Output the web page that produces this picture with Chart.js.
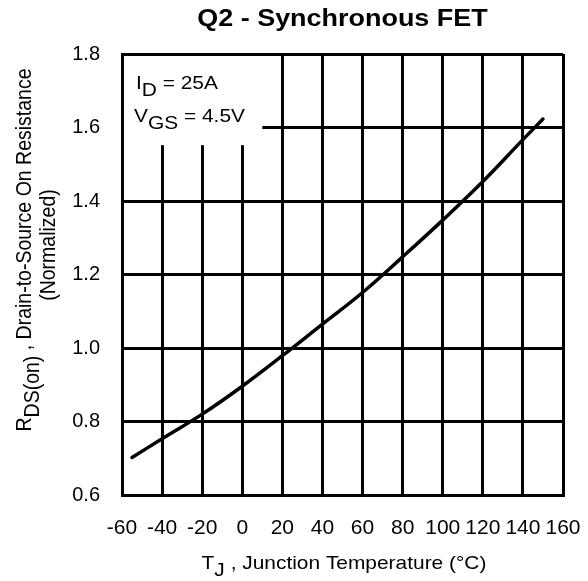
<!DOCTYPE html>
<html>
<head>
<meta charset="utf-8">
<script src="https://cdn.jsdelivr.net/npm/chart.js@4.4.1/dist/chart.umd.min.js"></script>
<style>
  body { margin: 0; background: #fff; }
  #wrap { width: 588px; height: 581px; }
</style>
</head>
<body>
<div id="wrap"><canvas id="rdsChart"></canvas></div>
<script>
// junction temperature (°C) vs normalized Rds(on)
const tempC = [-55, -40, -20, 0, 20, 40, 60, 80, 100, 120, 140, 150];
const rdsNorm = [0.702, 0.753, 0.820, 0.896, 0.979, 1.065, 1.151, 1.248, 1.348, 1.453, 1.567, 1.623];
const xTicks = [-60, -40, -20, 0, 20, 40, 60, 80, 100, 120, 140, 160];
const yTicks = [0.6, 0.8, 1.0, 1.2, 1.4, 1.6, 1.8];

const FONT = '"Liberation Sans", Arial, Helvetica, sans-serif';
const STRETCH = 1.1; // the source type is a little wider than Arial
Chart.defaults.font.family = FONT;
Chart.defaults.color = '#000';

// draws a run of text where some pieces are subscripts
function drawRich(ctx, parts, x, y, align) {
    let total = 0;
    parts.forEach(p => { total += ctx.measureText(p.t).width; });
    let cx = align === 'center' ? x - total / 2 : x;
    parts.forEach(p => {
        ctx.fillText(p.t, cx, y + (p.sub ? 7 : 0));
        cx += ctx.measureText(p.t).width;
    });
}

// horizontal text, stretched a bit around its anchor
function drawWide(ctx, parts, x, y, align) {
    ctx.save();
    ctx.translate(x, y);
    ctx.scale(STRETCH, 1);
    drawRich(ctx, parts, 0, 0, align);
    ctx.restore();
}

function drawUp(ctx, parts, x, y) {
    ctx.save();
    ctx.translate(x, y);
    ctx.scale(STRETCH, 1);
    ctx.rotate(-Math.PI / 2);
    drawRich(ctx, parts, 0, 0, 'center');
    ctx.restore();
}

const textPlugin = {
    id: 'textPlugin',
    beforeDatasetsDraw(chart) {
        const ctx = chart.ctx;
        const area = chart.chartArea;
        const xs = chart.scales.x, ys = chart.scales.y;
        // white label box that hides the grid in the top-left corner
        ctx.save();
        ctx.fillStyle = '#fff';
        const bx = xs.getPixelForValue(10);
        const by = ys.getPixelForValue(1.552);
        ctx.fillRect(area.left + 2, area.top + 2, bx - area.left - 2, by - area.top - 2);
        ctx.restore();
    },
    afterDraw(chart) {
        const ctx = chart.ctx;
        const area = chart.chartArea;
        const midX = (area.left + area.right) / 2;
        ctx.save();
        ctx.fillStyle = '#000';
        ctx.textBaseline = 'alphabetic';
        ctx.textAlign = 'left';

        // title
        ctx.font = 'bold 24.5px ' + FONT;
        drawWide(ctx, [{t: 'Q2 - Synchronous FET'}], midX, 26, 'center');

        // annotation
        ctx.font = '19px ' + FONT;
        drawWide(ctx, [{t: 'I'}, {t: 'D', sub: true}, {t: ' = 25A'}], 136, 89, 'left');
        drawWide(ctx, [{t: 'V'}, {t: 'GS', sub: true}, {t: ' = 4.5V'}], 134, 122, 'left');

        // x axis title
        drawWide(ctx, [{t: 'T'}, {t: 'J', sub: true}, {t: ' , Junction Temperature (°C)'}], 344, 569, 'center');

        // y axis title (two lines, rotated)
        ctx.font = '19.5px ' + FONT;
        drawUp(ctx, [{t: 'R'}, {t: 'DS(on)', sub: true}, {t: ' , Drain-to-Source On Resistance'}], 31, 250);
        drawUp(ctx, [{t: '(Normalized)'}], 55, 245);

        ctx.restore();
    }
};

const ctx = document.getElementById('rdsChart').getContext('2d');
const chart = new Chart(ctx, {
    type: 'line',
    data: {
        datasets: [{
            data: tempC.map((t, i) => ({x: t, y: rdsNorm[i]})),
            borderColor: '#000',
            borderWidth: 3.5,
            borderCapStyle: 'round',
            pointRadius: 0,
            fill: false,
            tension: 0.4
        }]
    },
    options: {
        responsive: true,
        maintainAspectRatio: false,
        animation: false,
        layout: { padding: { top: 54, right: 25, left: 0, bottom: 0 } },
        plugins: {
            legend: { display: false },
            tooltip: { enabled: false }
        },
        scales: {
            x: {
                type: 'linear',
                min: -60,
                max: 160,
                afterBuildTicks: s => { s.ticks = xTicks.map(v => ({value: v})); },
                afterFit: s => { s.height = 86; s.paddingLeft = 0; s.paddingRight = 0; },
                grid: { color: '#000', lineWidth: 3, drawTicks: false },
                border: { color: '#000', width: 3 },
                ticks: { font: { size: 21 }, padding: 21, maxRotation: 0, autoSkip: false }
            },
            y: {
                min: 0.6,
                max: 1.8,
                afterBuildTicks: s => { s.ticks = yTicks.map(v => ({value: v})); },
                afterFit: s => { s.width = 122; s.paddingTop = 0; s.paddingBottom = 0; },
                grid: { color: '#000', lineWidth: 3, drawTicks: false },
                border: { color: '#000', width: 3 },
                ticks: {
                    font: { size: 20 },
                    padding: 22,
                    callback: v => v.toFixed(1)
                }
            }
        }
    },
    plugins: [textPlugin]
});
</script>
</body>
</html>
